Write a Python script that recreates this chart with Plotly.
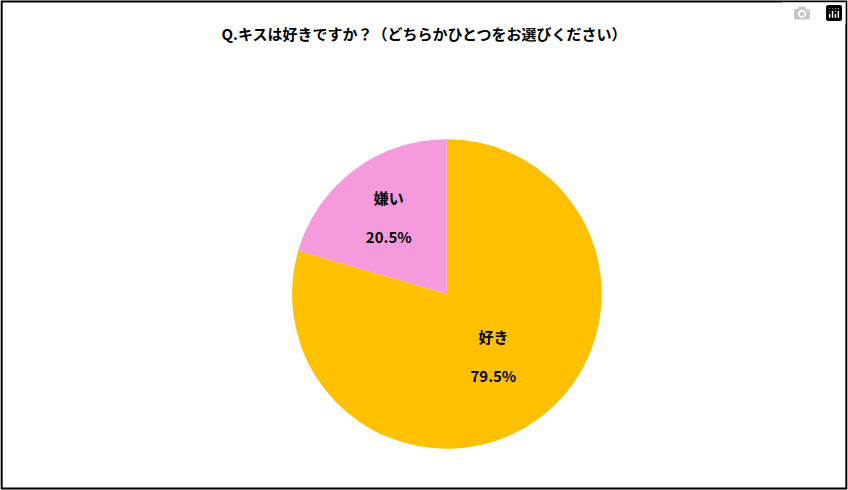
import plotly.graph_objects as go

labels = ['好き', '嫌い']
values = [79.5, 20.5]
colors = ['#FFC000', '#F59ADC']

fig = go.Figure()
fig.add_trace(go.Pie(
    labels=labels,
    values=values,
    sort=False,
    direction='clockwise',
    rotation=0,
    marker=dict(colors=colors, line=dict(width=0)),
    texttemplate='<b>%{label}</b><br><br><b>%{value:.1f}%</b>',
    textposition='inside',
    insidetextorientation='horizontal',
    textfont=dict(size=15, color='black', family='Noto Sans CJK JP'),
    domain=dict(x=[0.344, 0.71], y=[0.084, 0.716]),
    showlegend=False,
    hoverinfo='label+percent'
))

fig.update_layout(
    width=848, height=490,
    margin=dict(l=0, r=0, t=0, b=0),
    paper_bgcolor='white',
    title=dict(text='<b>Q.キスは好きですか？（どちらかひとつをお選びください）</b>',
               x=0.5, y=0.94, xanchor='center',
               font=dict(size=15, color='black', family='Noto Sans CJK JP')),
    shapes=[dict(type='rect', xref='paper', yref='paper',
                 x0=0.002, x1=0.998, y0=0.003, y1=0.997,
                 line=dict(color='black', width=2))]
)

# remove default page margin so the figure fills the window
fig.write_html('out.html',
               post_script="document.body.style.margin='0';document.body.style.overflow='hidden';")
